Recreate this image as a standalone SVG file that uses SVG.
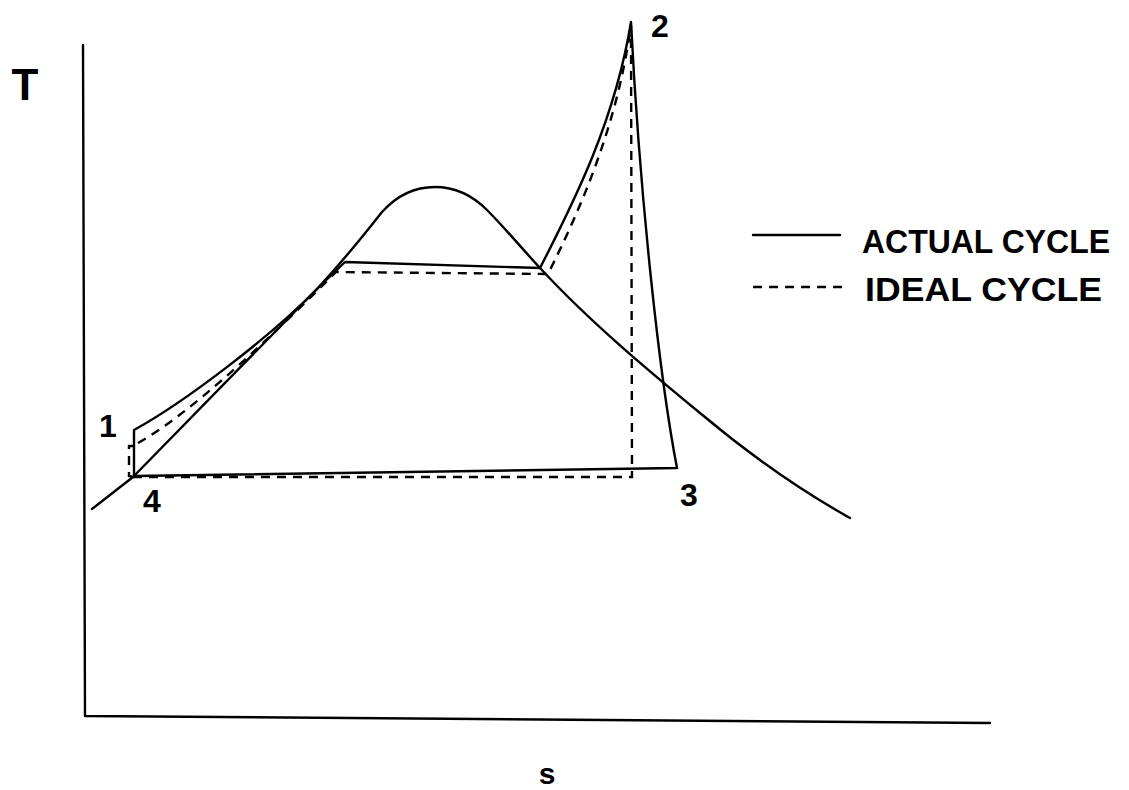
<svg xmlns="http://www.w3.org/2000/svg" width="1129" height="790" viewBox="0 0 1129 790">
<style>
.ln{fill:none;stroke:#000;stroke-width:2.4;stroke-linecap:round;stroke-linejoin:round}
.ds{fill:none;stroke:#000;stroke-width:2.4;stroke-dasharray:9,7}
.tx{font-family:"Liberation Sans",Arial,sans-serif;fill:#000;font-weight:bold}
</style>
<rect width="1129" height="790" fill="#fff"/>
<g id="axes">
<path class="ln" d="M83,45 L85,716 L990,723"/>
<text class="tx" x="25" y="100" font-size="44" font-weight="normal" text-anchor="middle">T</text>
<text class="tx" x="547" y="784" font-size="30" text-anchor="middle">s</text>
</g>
<g id="dome">
<path class="ln" d="M92,509 L133,477 L316,290 C330,275 360,240 382,212 C400,192 418,187 435,187 C455,187 472,195 487,210 C505,228 525,252 540,268 C590,322 650,372 700,413 C750,455 800,490 850,518"/>
</g>
<g id="actual-cycle">
<path class="ln" d="M134,477 L134,430 C185,402 270,337 316,290 L345,262 L540,268 C575,200 615,120 631,22 C640,200 660,380 677,468 L134,476"/>
</g>
<g id="ideal-cycle">
<path class="ds" d="M134,477 L129,476 L129,446 L134,446"/>
<path class="ds" d="M138,443 C190,414 265,342 318,290 L336,272 L548,274 C585,200 618,120 631,25 L632,477 L134,477"/>
</g>
<g id="labels">
<text class="tx" x="108" y="437" font-size="32" font-weight="normal" text-anchor="middle">1</text>
<text class="tx" x="660" y="37" font-size="32" font-weight="normal" text-anchor="middle">2</text>
<text class="tx" x="689" y="506" font-size="32" font-weight="normal" text-anchor="middle">3</text>
<text class="tx" x="152" y="512" font-size="32" font-weight="normal" text-anchor="middle">4</text>
</g>
<g id="legend">
<path class="ln" d="M753,235 L840,235"/>
<text class="tx" x="862" y="253" font-size="34" textLength="248" lengthAdjust="spacingAndGlyphs">ACTUAL  CYCLE</text>
<path class="ds" d="M753,287 L847,287" stroke-dasharray="10,8"/>
<text class="tx" x="865" y="301" font-size="34" textLength="237" lengthAdjust="spacingAndGlyphs">IDEAL  CYCLE</text>
</g>
</svg>
